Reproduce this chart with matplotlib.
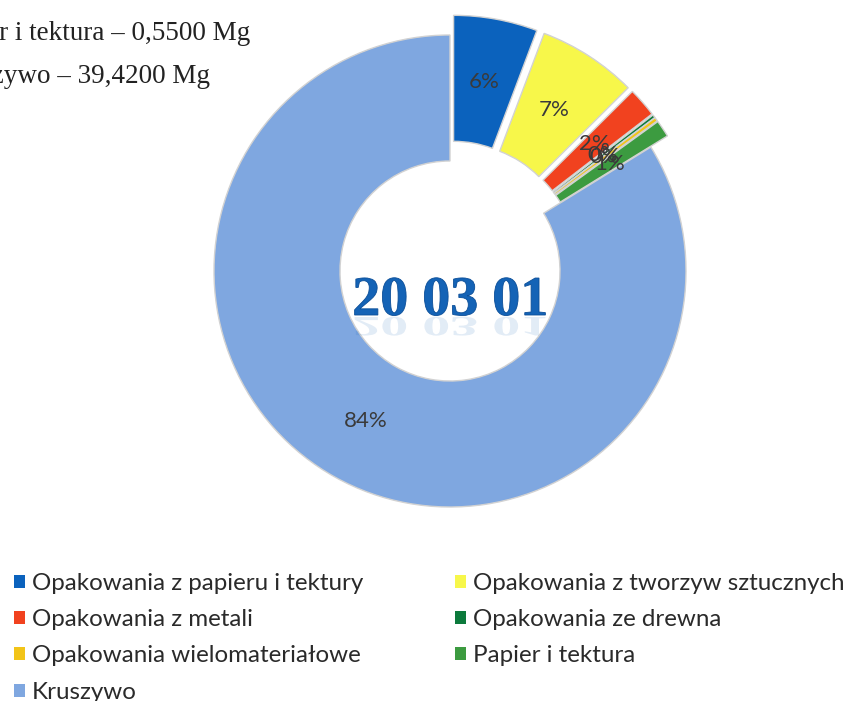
import matplotlib
matplotlib.use("Agg")
import matplotlib.pyplot as plt
from matplotlib.textpath import TextPath
from matplotlib.patches import PathPatch, Patch
from matplotlib.font_manager import FontProperties
from matplotlib.transforms import Affine2D

# ---- data ----
categories = [
    "Opakowania z papieru i tektury",
    "Opakowania z tworzyw sztucznych",
    "Opakowania z metali",
    "Opakowania ze drewna",
    "Opakowania wielomateriałowe",
    "Papier i tektura",
    "Kruszywo",
]
values_mg = [2.70, 3.20, 0.95, 0.10, 0.12, 0.55, 39.42]
colors = ["#0B62BD", "#F7F74A", "#F1421F", "#0C7A3C", "#F2C418", "#3C9B40", "#7FA7E0"]
explode_px = [20, 20, 20, 20, 20, 20, 0]
center_title = "20 03 01"
note_lines = ["Papier i tektura – 0,5500 Mg", "Kruszywo – 39,4200 Mg"]

W, H = 854, 701
fig = plt.figure(figsize=(W / 100, H / 100), dpi=100)
ax = fig.add_axes([0, 0, 1, 1])
ax.set_xlim(0, W)
ax.set_ylim(0, H)
ax.set_aspect("equal")
ax.axis("off")

cx, cy = 450, H - 271
R = 236
ring = 126

wedges, texts, autotexts = ax.pie(
    values_mg,
    colors=colors,
    startangle=90,
    counterclock=False,
    radius=R,
    center=(cx, cy),
    explode=explode_px,
    autopct=lambda p: f"{p:.0f}%",
    pctdistance=0.73,
    wedgeprops=dict(width=ring, edgecolor="#d2d2d2", linewidth=1.0),
    textprops=dict(color="#3a3a3a", fontsize=16, family="Lato"),
)
ax.set_xlim(0, W)
ax.set_ylim(0, H)

# centre title with faint reflection
fp = FontProperties(family="Liberation Serif", weight="bold")
tp = TextPath((0, 0), center_title, size=56, prop=fp)
bb = tp.get_extents()
tx = cx - (bb.x0 + bb.x1) / 2
ty = H - 315
ax.add_patch(PathPatch(Affine2D().translate(tx, ty).transform_path(tp),
                       facecolor="#1463B6", edgecolor="#0B4E98", lw=0.6, zorder=5))
ax.add_patch(PathPatch(Affine2D().scale(1, -0.5).translate(tx, ty - 2).transform_path(tp),
                       facecolor="#1463B6", edgecolor="none", alpha=0.12, zorder=5))

# top-left cropped document text
ax.text(250, H - 40, note_lines[0], ha="right", va="baseline",
        family="Liberation Serif", fontsize=19.5, color="#222222")
ax.text(210, H - 83, note_lines[1], ha="right", va="baseline",
        family="Liberation Serif", fontsize=19.5, color="#222222")

# legend (row-wise order like the original)
order = [0, 2, 4, 6, 1, 3, 5]
handles = [Patch(facecolor=colors[i], edgecolor="none") for i in order]
labels = [categories[i] for i in order]
leg = ax.legend(handles, labels, ncol=2, loc="upper left",
                bbox_to_anchor=(14 / W, 1 - 573 / H), bbox_transform=ax.transAxes,
                frameon=False, prop=dict(family="Lato", size=17.4),
                handlelength=0.45, handleheight=0.45, handletextpad=0.3,
                labelspacing=0.63, columnspacing=3.8, borderaxespad=0, borderpad=0)
for t in leg.get_texts():
    t.set_color("#2a2a2a")

fig.savefig("out.png", dpi=100, facecolor="white")
